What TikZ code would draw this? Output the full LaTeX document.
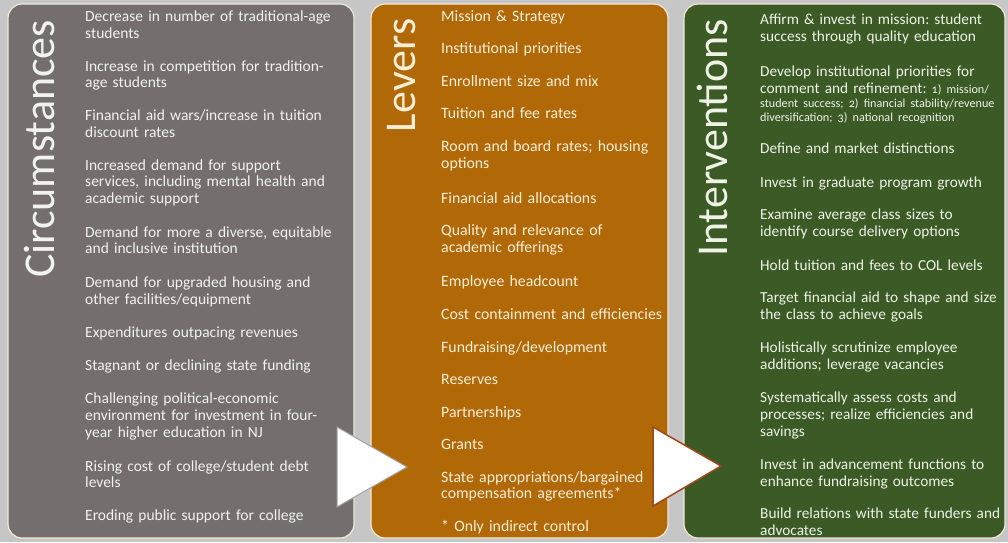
\documentclass[tikz,border=0pt]{standalone}
\usepackage{fontspec}
\setmainfont{Carlito}
\frenchspacing
\definecolor{bggrey}{RGB}{198,198,198}
\definecolor{circgrey}{RGB}{116,111,110}
\definecolor{levbrown}{RGB}{176,105,6}
\definecolor{intgreen}{RGB}{59,90,38}
\definecolor{rimcream}{RGB}{240,234,214}
\definecolor{rust}{RGB}{162,70,27}
\definecolor{arrgrey}{RGB}{160,160,160}
\definecolor{txtgrey}{RGB}{242,242,242}
\definecolor{txtbrown}{RGB}{252,238,215}
\definecolor{txtgreen}{RGB}{238,243,230}
\def\smalltxt{\fontsize{12.2}{14}\selectfont\addfontfeatures{Numbers=OldStyle}}
\tikzset{
  panel/.style={draw=rimcream, line width=1.2pt, rounded corners=14pt},
  item/.style={anchor=base west, inner sep=0pt, text width=280pt, align=left,
    font=\fontsize{15.8}{16.8}\selectfont},
  circitem/.style={item, text=txtgrey, font=\fontsize{15.5}{16.8}\selectfont},
  levitem/.style={item, text=txtbrown},
  intitem/.style={item, text=txtgreen, font=\fontsize{15.3}{17}\selectfont},
  heading/.style={rotate=90, anchor=base, inner sep=0pt, font=\fontsize{44}{50}\selectfont},
}

\begin{document}
\begin{tikzpicture}[x=1pt,y=-1pt]
			%%%%% PANELS %%%%%
			\fill[bggrey] (0,0) rectangle (1008,542);
			\useasboundingbox (0,0) rectangle (1008,542);
			
			\draw[panel, fill=circgrey] (8,4) rectangle (354,538);
			\draw[panel, fill=levbrown] (371,4) rectangle (668,538);
			\draw[panel, fill=intgreen] (684,4) rectangle (1005,538);
			
			%%%%% HEADINGS %%%%%
			\node[heading, text=txtgrey] (circ) at (54,149) {Circumstances};
			\node[heading, text=txtbrown] (lev) at (415,75.5) {Levers};
			\node[heading, text=txtgreen] (interv) at (727,138) {Interventions};
			
			%%%%% CIRCUMSTANCES %%%%%
			\node[circitem] (c1) at (85,21.5) {Decrease in number of traditional-age\\students};
			\node[circitem] (c2) at (85,71) {Increase in competition for tradition-\\age students};
			\node[circitem] (c3) at (85,120.5) {Financial aid wars/increase in tuition\\discount rates};
			\node[circitem] (c4) at (85,170) {Increased demand for support\\services, including mental health and\\academic support};
			\node[circitem] (c5) at (85,237) {Demand for more a diverse, equitable\\and inclusive institution};
			\node[circitem] (c6) at (85,287.5) {Demand for upgraded housing and\\other facilities/equipment};
			\node[circitem] (c7) at (85,337.5) {Expenditures outpacing revenues};
			\node[circitem] (c8) at (85,370.5) {Stagnant or declining state funding};
			\node[circitem] (c9) at (85,403.5) {Challenging political-economic\\environment for investment in four-\\year higher education in NJ};
			\node[circitem] (c10) at (85,471) {Rising cost of college/student debt\\levels};
			\node[circitem] (c11) at (85,520.5) {Eroding public support for college};
			
			%%%%% LEVERS %%%%%
			\node[levitem] (l1) at (441,21.5) {Mission \& Strategy};
			\node[levitem] (l2) at (441,53.5) {Institutional priorities};
			\node[levitem] (l3) at (441,86) {Enrollment size and mix};
			\node[levitem] (l4) at (441,118.5) {Tuition and fee rates};
			\node[levitem] (l5) at (441,151.5) {Room and board rates; housing\\options};
			\node[levitem] (l6) at (441,203) {Financial aid allocations};
			\node[levitem] (l7) at (441,235.5) {Quality and relevance of\\academic offerings};
			\node[levitem] (l8) at (441,286.5) {Employee headcount};
			\node[levitem] (l9) at (441,319.5) {Cost containment and efficiencies};
			\node[levitem] (l10) at (441,352) {Fundraising/development};
			\node[levitem] (l11) at (441,384.5) {Reserves};
			\node[levitem] (l12) at (441,417) {Partnerships};
			\node[levitem] (l13) at (441,449.5) {Grants};
			\node[levitem] (l14) at (441,482) {State appropriations/bargained\\compensation agreements*};
			\node[levitem] (l15) at (441,531) {* Only indirect control};
			
			%%%%% INTERVENTIONS %%%%%
			\node[intitem] (i1) at (760,24) {Affirm \& invest in mission: student\\success through quality education};
			\node[intitem] (i2) at (760,76) {Develop institutional priorities for\\comment and refinement: {\smalltxt 1) mission/}\\[-3pt]{\smalltxt student success; 2) financial stability/revenue}\\[-3pt]{\smalltxt diversification; 3) national recognition}};
			\node[intitem] (i3) at (760,153) {Define and market distinctions};
			\node[intitem] (i4) at (760,187) {Invest in graduate program growth};
			\node[intitem] (i5) at (760,219) {Examine average class sizes to\\identify course delivery options};
			\node[intitem] (i6) at (760,270) {Hold tuition and fees to COL levels};
			\node[intitem] (i7) at (760,302) {Target financial aid to shape and size\\the class to achieve goals};
			\node[intitem] (i8) at (760,352) {Holistically scrutinize employee\\additions; leverage vacancies};
			\node[intitem] (i9) at (760,402) {Systematically assess costs and\\processes; realize efficiencies and\\savings};
			\node[intitem] (i10) at (760,469) {Invest in advancement functions to\\enhance fundraising outcomes};
			\node[intitem] (i11) at (760,518) {Build relations with state funders and\\advocates};
			
			%%%%% ARROWS %%%%%
			\draw[fill=white, draw=arrgrey, line width=1pt] (337,427) -- (407,467) -- (337,507) -- cycle;
			\draw[fill=white, draw=rust, line width=1.5pt] (653,427) -- (721,466) -- (653,506) -- cycle;
			
			%%%%% END %%%%%
\end{tikzpicture}
\end{document}
